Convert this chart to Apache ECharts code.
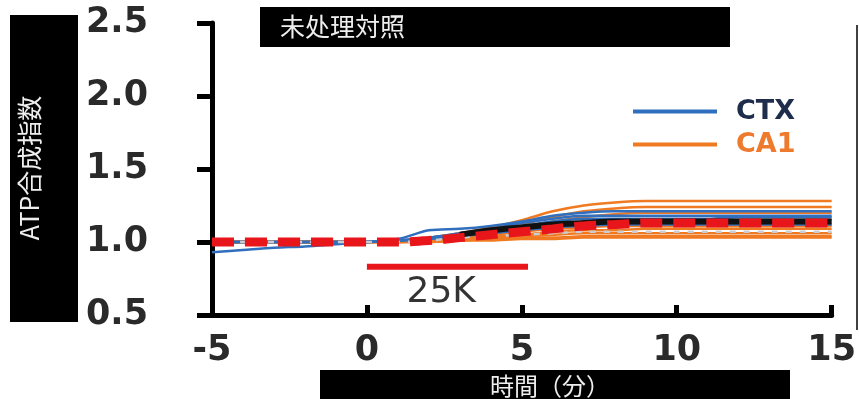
<!DOCTYPE html>
<html><head><meta charset="utf-8">
<script src="https://cdn.jsdelivr.net/npm/echarts@6/dist/echarts.min.js"></script>
<style>html,body{margin:0;padding:0;background:#fff}#c{width:859px;height:399px}</style>
</head><body><div id="c"></div>
<script>
const times = [-5,-4,-3,-2,-1,0,1,2,3,4,5,6,7,8,9,10,11,12,13,14,15];
const yTicks = [0.5,1.0,1.5,2.0,2.5];
const xTicks = [-5,0,5,10,15];
// CTX (blue) traces
const ctx1 = [0.93,0.945,0.96,0.97,0.985,1.0,1.02,1.08,1.09,1.11,1.14,1.18,1.20,1.21,1.21,1.21,1.21,1.21,1.21,1.21,1.21];
const ctx2 = [1.0,1.0,1.0,1.0,1.0,1.0,1.01,1.03,1.06,1.09,1.13,1.16,1.18,1.18,1.18,1.18,1.18,1.18,1.18,1.18,1.18];
const ctx3 = [1.0,1.0,1.0,1.0,1.0,1.0,1.01,1.03,1.05,1.08,1.11,1.14,1.16,1.16,1.16,1.16,1.16,1.17,1.17,1.17,1.17];
const ctx4 = [1.0,1.0,1.0,1.0,1.0,1.0,1.01,1.02,1.04,1.06,1.08,1.10,1.11,1.12,1.12,1.12,1.12,1.12,1.12,1.12,1.12];
// CA1 (orange) traces
const ca1a = [1.0,1.0,1.0,1.0,1.0,1.0,1.01,1.03,1.06,1.10,1.15,1.21,1.25,1.27,1.28,1.28,1.28,1.28,1.28,1.28,1.28];
const ca1b = [1.0,1.0,1.0,1.0,1.0,1.0,1.01,1.02,1.05,1.08,1.12,1.17,1.21,1.23,1.24,1.24,1.24,1.24,1.24,1.24,1.24];
const ca1c = [1.0,1.0,1.0,1.0,1.0,1.0,1.01,1.02,1.04,1.07,1.10,1.14,1.17,1.19,1.20,1.20,1.20,1.20,1.20,1.20,1.20];
const ca1d = [1.0,1.0,1.0,1.0,1.0,1.0,1.01,1.02,1.04,1.06,1.08,1.11,1.13,1.14,1.15,1.15,1.15,1.15,1.15,1.15,1.15];
const ca1e = [1.0,1.0,1.0,1.0,1.0,1.0,1.0,1.01,1.03,1.05,1.07,1.09,1.10,1.11,1.11,1.11,1.11,1.11,1.11,1.11,1.11];
const ca1f = [1.0,1.0,1.0,1.0,1.0,1.0,1.0,1.01,1.02,1.04,1.05,1.07,1.08,1.08,1.09,1.09,1.09,1.09,1.09,1.09,1.09];
const ca1g = [1.0,1.0,1.0,1.0,1.0,1.0,1.0,1.01,1.02,1.03,1.04,1.05,1.06,1.06,1.06,1.06,1.06,1.06,1.06,1.06,1.06];
const ca1h = [1.0,1.0,1.0,1.0,1.0,1.0,1.0,1.0,1.01,1.02,1.03,1.03,1.04,1.04,1.04,1.04,1.04,1.04,1.04,1.04,1.04];
const ca1i = [1.0,1.0,1.0,1.0,1.0,1.0,1.0,1.0,1.01,1.01,1.02,1.02,1.03,1.03,1.03,1.03,1.03,1.03,1.03,1.03,1.03];
// dashed means
const grayMean = [1.0,1.0,1.0,1.0,1.0,1.0,1.0,1.01,1.03,1.04,1.05,1.06,1.07,1.07,1.07,1.07,1.07,1.07,1.07,1.07,1.07];
const blackMean = [null,null,null,null,null,null,null,null,1.05,1.08,1.10,1.12,1.13,1.14,1.14,1.14,1.14,1.14,1.14,1.14,1.14];
const redMean = [1.0,1.0,1.0,1.0,1.0,1.0,1.0,1.01,1.03,1.05,1.07,1.09,1.11,1.12,1.13,1.13,1.13,1.13,1.13,1.13,1.13];
// stimulus bar
const stimX = [0, 5.2];
const stimY = 0.83;
const stimLabel = '25K';

const BLUE = '#2f6fbd', ORANGE = '#f07a22', RED = '#e8161b';
const pair = a => times.map((t,i)=>[t,a[i]]);
function tr(name, data, color, w){
  return {type:'line', name, data:pair(data), showSymbol:false, smooth:0.3,
    lineStyle:{color, width:w||2.5}, itemStyle:{color}, z:2, silent:true};
}
const series = [
  tr('CA1', ca1a, ORANGE), tr('CA1', ca1b, ORANGE), tr('CA1', ca1c, ORANGE),
  tr('CA1', ca1d, ORANGE), tr('CA1', ca1e, ORANGE), tr('CA1', ca1f, ORANGE),
  tr('CA1', ca1g, ORANGE), tr('CA1', ca1h, ORANGE), tr('CA1', ca1i, ORANGE),
  tr('CTX', ctx1, BLUE), tr('CTX', ctx2, BLUE), tr('CTX', ctx3, BLUE), tr('CTX', ctx4, BLUE),
  {type:'line', name:'gray', data:pair(grayMean), showSymbol:false, smooth:0.3, z:3,
    lineStyle:{color:'#c9ccd2', width:2.5, type:[6,8]}},
  {type:'line', name:'black', data:pair(blackMean), showSymbol:false, smooth:0.3, z:3,
    lineStyle:{color:'#111', width:6}},
  {type:'line', name:'mean', data:pair(redMean), showSymbol:false, smooth:0.3, z:4,
    lineStyle:{color:RED, width:9, type:[22,11]}},
  {type:'line', name:'stim', data:stimX.map(x=>[x,stimY]), showSymbol:false, z:4,
    lineStyle:{color:RED, width:6}},
  {type:'scatter', name:'stimLabel', data:[[(stimX[0]+stimX[1])/2 - 0.2, stimY]], symbolSize:0, z:5,
    label:{show:true, formatter:stimLabel, position:'bottom', distance:8,
      fontSize:36, color:'#000', fontFamily:'DejaVu Sans'}}
];

const chart = echarts.init(document.getElementById('c'), null, {renderer:'canvas'});
chart.setOption({
  animation:false,
  backgroundColor:'#fff',
  grid:{left:212, right:26, top:23, bottom:84},
  legend:{
    orient:'vertical', left:628, top:93, itemWidth:84, itemHeight:4, itemGap:6, icon:'rect',
    selectedMode:false,
    data:[
      {name:'CTX', itemStyle:{color:BLUE}, textStyle:{color:'#1f2d4d'}},
      {name:'CA1', itemStyle:{color:ORANGE}, textStyle:{color:'#ee7a2e'}}
    ],
    textStyle:{fontSize:27, fontWeight:'bold', fontFamily:'DejaVu Sans', padding:[0,0,0,14]}
  },
  xAxis:{type:'value', min:-5, max:15, interval:5,
    axisLine:{show:true, onZero:false, lineStyle:{color:'#000', width:5}},
    axisTick:{show:true, inside:true, length:10, lineStyle:{color:'#000', width:5}},
    axisLabel:{fontSize:35, fontWeight:'bold', color:'#2a2a2a', margin:18, fontFamily:'DejaVu Sans',
      formatter:v=>xTicks.includes(v)?String(v):''},
    splitLine:{show:false}},
  yAxis:{type:'value', min:0.5, max:2.5, interval:0.5,
    axisLine:{show:true, onZero:false, lineStyle:{color:'#000', width:5}},
    axisTick:{show:true, inside:false, length:15, lineStyle:{color:'#000', width:5}},
    axisLabel:{fontSize:35, fontWeight:'bold', color:'#2a2a2a', margin:64, fontFamily:'DejaVu Sans',
      formatter:v=>yTicks.some(t=>Math.abs(t-v)<1e-9)?v.toFixed(1):''},
    splitLine:{show:false}},
  graphic:[
    {type:'rect', shape:{x:260, y:7, width:470, height:40}, style:{fill:'#000'}, z:10},
    {type:'text', x:280, y:26, style:{text:'未处理対照', fill:'#eeeeee', fontSize:25,
      fontFamily:'Noto Sans CJK JP', verticalAlign:'middle'}, z:11},
    {type:'rect', shape:{x:10, y:15, width:68, height:307}, style:{fill:'#000'}, z:10},
    {type:'text', x:29, y:168, rotation:Math.PI/2, style:{text:'ATP合成指数', fill:'#eeeeee', fontSize:25,
      fontFamily:'Noto Sans CJK JP', align:'center', verticalAlign:'middle'}, z:11},
    {type:'rect', shape:{x:320, y:370, width:470, height:29}, style:{fill:'#000'}, z:10},
    {type:'text', x:550, y:386, style:{text:'時間（分）', fill:'#eeeeee', fontSize:24,
      fontFamily:'Noto Sans CJK JP', align:'center', verticalAlign:'middle'}, z:11},
    {type:'line', shape:{x1:857, y1:25, x2:857, y2:330}, style:{stroke:'#000', lineWidth:1.5}, z:10}
  ],
  series
});
</script></body></html>
